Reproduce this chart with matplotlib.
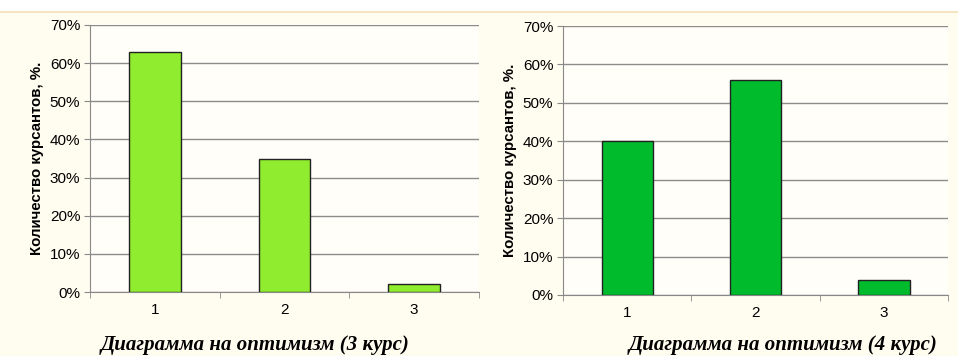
import numpy as np
import matplotlib
matplotlib.use("Agg")
import matplotlib.pyplot as plt
from matplotlib.ticker import FuncFormatter

# data
categories = ["1", "2", "3"]
course3 = [63, 35, 2]
course4 = [40, 56, 4]
titles = ["Диаграмма на оптимизм (3 курс)", "Диаграмма на оптимизм (4 курс)"]
ylabel = "Количество курсантов, %."
yticks = [0, 10, 20, 30, 40, 50, 60, 70]

W, H = 958, 356
fig = plt.figure(figsize=(W / 100, H / 100), dpi=100)
fig.patch.set_facecolor("#fffdf0")

# white strip and thin orange line at the top
fig.add_artist(plt.Rectangle((0, 1 - 11 / H), 1, 11 / H, transform=fig.transFigure,
                             facecolor="white", edgecolor="none"))
fig.add_artist(plt.Line2D([0, 1], [1 - 12 / H, 1 - 12 / H], transform=fig.transFigure,
                          color="#f3dfb8", lw=1.2))

def px_axes(l, r, b, t):
    return fig.add_axes([l / W, 1 - b / H, (r - l) / W, (b - t) / H])

def draw(ax, vals, color, title, tx):
    x = np.arange(len(categories))
    ax.set_facecolor("#fffef8")
    ax.bar(x, vals, width=0.4, color=color, edgecolor="#222222", linewidth=1, zorder=3)
    ax.set_xlim(-0.5, 2.5)
    ax.set_ylim(0, 70)
    ax.set_yticks(yticks)
    ax.yaxis.set_major_formatter(FuncFormatter(lambda v, p: "%d%%" % v))
    ax.set_xticks(x)
    ax.set_xticklabels(categories)
    ax.set_xticks([-0.5, 0.5, 1.5, 2.5], minor=True)
    ax.tick_params(axis="x", which="major", length=0, pad=8, labelsize=11)
    ax.tick_params(axis="x", which="minor", length=4, color="#888888", direction="out")
    ax.tick_params(axis="y", length=4, color="#888888", labelsize=11, pad=3)
    ax.grid(axis="y", color="#8c8c8c", lw=1, zorder=0)
    for s in ["top", "right"]:
        ax.spines[s].set_visible(False)
    for s in ["left", "bottom"]:
        ax.spines[s].set_color("#888888")
    ax.set_ylabel(ylabel, fontsize=10.8, fontweight="bold", labelpad=4)
    fig.text(tx / W, 1 - 345 / H, title, ha="center", va="center",
             family="Liberation Serif", style="italic", fontweight="bold", fontsize=15)

plt.rcParams["font.family"] = ["Liberation Sans", "DejaVu Sans"]

ax1 = px_axes(90, 479, 292, 25)
draw(ax1, course3, "#8fec2e", titles[0], 255)
ax2 = px_axes(563, 948, 295, 26)
draw(ax2, course4, "#00bb2c", titles[1], 783)

fig.savefig("out.png", dpi=100, facecolor=fig.get_facecolor())
